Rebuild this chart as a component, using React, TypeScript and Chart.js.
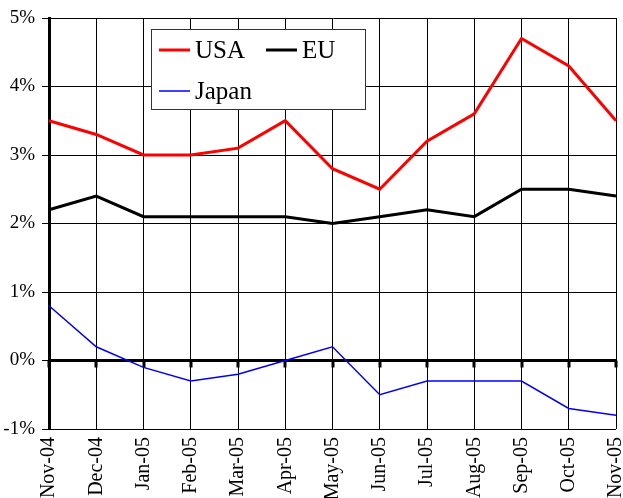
import React, { useEffect, useRef } from "react";
import { Chart, registerables } from "chart.js";

Chart.register(...registerables);

const categories = ["Nov-04", "Dec-04", "Jan-05", "Feb-05", "Mar-05", "Apr-05", "May-05", "Jun-05", "Jul-05", "Aug-05", "Sep-05", "Oct-05", "Nov-05"];
const usa = [3.5, 3.3, 3.0, 3.0, 3.1, 3.5, 2.8, 2.5, 3.2, 3.6, 4.7, 4.3, 3.5];
const eu = [2.2, 2.4, 2.1, 2.1, 2.1, 2.1, 2.0, 2.1, 2.2, 2.1, 2.5, 2.5, 2.4];
const japan = [0.8, 0.2, -0.1, -0.3, -0.2, 0.0, 0.2, -0.5, -0.3, -0.3, -0.3, -0.7, -0.8];
const legendItems = [
  { label: "USA", color: "#ff0000", width: 3 },
  { label: "EU", color: "#000000", width: 3 },
  { label: "Japan", color: "#0000ff", width: 1.5 },
];

const FONT = "'Liberation Serif', 'Times New Roman', serif";

const zeroLinePlugin = {
  id: "zeroLine",
  beforeDatasetsDraw(chart: any) {
    const { ctx, scales } = chart;
    const y = scales.y.getPixelForValue(0);
    ctx.save();
    ctx.strokeStyle = "#000";
    ctx.lineWidth = 3;
    ctx.beginPath();
    ctx.moveTo(chart.chartArea.left, y);
    ctx.lineTo(chart.chartArea.right, y);
    ctx.stroke();
    categories.forEach((_, i) => {
      const x = Math.round(scales.x.getPixelForValue(i));
      ctx.fillStyle = "#000";
      ctx.fillRect(x - 1.5, y, 3, 7);
    });
    ctx.restore();
  },
};

const legendBoxPlugin = {
  id: "legendBox",
  afterDatasetsDraw(chart: any) {
    const { ctx } = chart;
    const bx = 151, by = 29, bw = 214, bh = 80;
    ctx.save();
    ctx.fillStyle = "#fff";
    ctx.fillRect(bx, by, bw, bh);
    ctx.strokeStyle = "#333";
    ctx.lineWidth = 1;
    ctx.strokeRect(bx + 0.5, by + 0.5, bw, bh);
    ctx.font = `25px ${FONT}`;
    ctx.textBaseline = "middle";
    ctx.fillStyle = "#000";
    const pos = [
      { x: 159, y: 50 },
      { x: 266, y: 50 },
      { x: 159, y: 91 },
    ];
    legendItems.forEach((it, i) => {
      const p = pos[i];
      ctx.strokeStyle = it.color;
      ctx.lineWidth = it.width;
      ctx.beginPath();
      ctx.moveTo(p.x, p.y);
      ctx.lineTo(p.x + 31, p.y);
      ctx.stroke();
      ctx.fillText(it.label, p.x + 36, p.y + 1);
    });
    ctx.restore();
  },
};

export default function App() {
  const ref = useRef<HTMLCanvasElement>(null);
  useEffect(() => {
    if (!ref.current) return;
    const chart = new Chart(ref.current, {
      type: "line",
      data: {
        labels: categories,
        datasets: [
          { label: "USA", data: usa, borderColor: "#ff0000", borderWidth: 3, pointRadius: 0, tension: 0 },
          { label: "EU", data: eu, borderColor: "#000000", borderWidth: 3, pointRadius: 0, tension: 0 },
          { label: "Japan", data: japan, borderColor: "#0000ff", borderWidth: 1.5, pointRadius: 0, tension: 0 },
        ],
      },
      options: {
        animation: false,
        responsive: false,
        maintainAspectRatio: false,
        layout: { padding: { top: 18, right: 7, left: 0, bottom: 0 } },
        plugins: { legend: { display: false }, tooltip: { enabled: false } },
        scales: {
          x: {
            offset: false,
            grid: { display: true, color: "#000", lineWidth: 1, drawTicks: false },
            border: { display: false },
            ticks: {
              color: "#000",
              font: { family: FONT, size: 20 },
              minRotation: 90,
              maxRotation: 90,
              padding: 8,
              autoSkip: false,
            },
            afterFit(scale: any) {
              scale.height = 69;
              scale.paddingLeft = 0;
              scale.paddingRight = 0;
            },
          },
          y: {
            min: -1,
            max: 5,
            grid: { display: true, color: "#000", lineWidth: 1, drawTicks: true, tickLength: 7 },
            border: { display: true, color: "#000", width: 3 },
            ticks: {
              stepSize: 1,
              color: "#000",
              padding: 7,
              font: { family: FONT, size: 19 },
              callback: (v: any) => `${v}%`,
            },
            afterFit(scale: any) {
              scale.width = 49;
              scale.paddingTop = 0;
              scale.paddingBottom = 0;
            },
          },
        },
      },
      plugins: [zeroLinePlugin, legendBoxPlugin],
    });
    return () => chart.destroy();
  }, []);
  return (
    <div style={{ position: "fixed", left: 0, top: 0, width: 623, height: 498, background: "#fff" }}>
      <canvas ref={ref} width={623} height={498} style={{ width: 623, height: 498 }} />
    </div>
  );
}
